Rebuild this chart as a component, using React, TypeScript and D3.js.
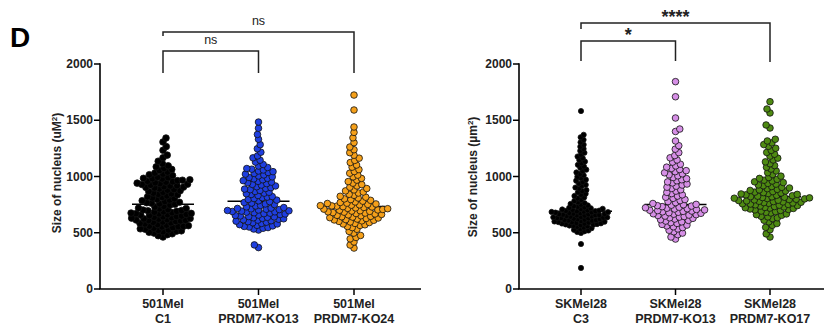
import React from "react";
import * as d3 from "d3";

// ---- data -------------------------------------------------------------
const leftCategories = [["501Mel", "C1"], ["501Mel", "PRDM7-KO13"], ["501Mel", "PRDM7-KO24"]];
const rightCategories = [["SKMel28", "C3"], ["SKMel28", "PRDM7-KO13"], ["SKMel28", "PRDM7-KO17"]];
const yTicks = [0, 500, 1000, 1500, 2000];

const mel501C1 = [
  462, 474, 483, 491, 497,
  504, 509, 514, 517, 522, 526, 531, 535, 541, 546, 552, 555, 557, 560, 563, 568, 573, 579, 584, 589, 593, 596,
  601, 606, 609, 611, 613, 617, 621, 623, 627, 630, 634, 638, 642, 645, 649, 653, 657, 661, 664, 668, 670,
  672, 675, 679, 683, 687, 691, 695, 698,
  702, 706, 713, 716, 719, 729, 735, 746,
  753, 758, 762, 767, 771, 778, 785, 791, 796, 803, 810, 815, 820, 828, 837, 842, 847, 853, 860, 867,
  874, 879, 884, 891, 898,
  903, 906, 910, 916, 919, 924, 929, 932, 937, 941, 945, 950, 954, 958, 963, 967, 971, 978, 981, 984, 990, 994,
  1009, 1016, 1022, 1031, 1040, 1053, 1063, 1072, 1086, 1095,
  1114, 1136, 1167, 1190, 1233, 1266, 1307, 1342,
];
const mel501KO13 = [
  368, 392,
  524, 533, 540, 546, 551, 556, 561, 566, 572, 578, 583, 589, 594, 598,
  603, 607, 612, 615, 620, 624, 628, 633, 637, 641, 644, 649, 654, 657, 662, 667, 670, 674, 678, 683,
  686, 689, 692, 695, 698, 702, 706, 709, 712, 716, 719,
  724, 730, 738, 743, 751, 756, 764, 769,
  777, 784, 790, 796, 804, 811, 817, 822, 831, 840, 847, 852, 860, 867, 876, 883, 888, 894,
  901, 909, 916, 924, 930, 937, 944, 950, 957, 963, 971, 979, 984, 991, 997,
  1005, 1014, 1021, 1027, 1036, 1043, 1049, 1058, 1065, 1071, 1080, 1093,
  1107, 1128, 1145, 1166, 1183, 1216, 1247, 1283, 1331, 1374, 1429, 1484,
];
const mel501KO24 = [
  364, 391, 418, 446, 458, 476, 497, 512, 531, 546,
  556, 565, 571, 578, 583, 591, 596, 601, 606, 611, 614, 617, 622, 627, 631, 634, 639,
  642, 646, 651, 655, 659, 663, 667, 671, 675, 679, 683, 686, 690, 693, 696, 700, 703, 707, 710, 714,
  717, 721, 725, 729, 732, 736, 739,
  741, 745, 748, 752, 756, 760, 763, 769, 774, 781, 788, 795, 801, 809, 816, 824, 833, 842,
  853, 862, 872, 881, 893, 905, 916, 928, 941,
  955, 968, 983, 997, 1012, 1029, 1044, 1061, 1083, 1102, 1124, 1143,
  1163, 1189, 1212, 1238,
  1262, 1301, 1344, 1392, 1440, 1591, 1724,
];
const sk28C3 = [
  187, 400,
  498, 507, 513, 520, 526, 532, 540, 547, 553, 558,
  562, 564, 568, 571, 574, 577, 581, 582, 584, 587, 591, 594, 595, 598, 600, 604,
  607, 609, 612, 613, 616, 621, 622, 625, 628, 629, 631, 634, 637, 638, 640, 643, 646, 649,
  652, 655, 656, 658, 661, 664, 665, 667, 670, 674, 676, 679, 682, 683, 685, 688, 691, 692, 694,
  697, 700, 704, 707, 711, 713, 718, 721, 726,
  731, 737, 743, 749, 756, 763,
  771, 783, 792, 806, 814, 827, 838, 846, 859, 871, 880, 893, 902, 917, 926, 938, 951, 963, 972, 986,
  998, 1011, 1023, 1036, 1049, 1061, 1077, 1090, 1104, 1118, 1133, 1147, 1163, 1178, 1194,
  1211, 1228, 1246, 1265, 1283, 1304, 1326, 1349, 1371, 1582,
];
const sk28KO13 = [
  444, 462,
  483, 497, 509, 522, 534, 546, 553, 561, 568, 574, 583, 590, 597,
  604, 610, 616, 622, 628, 633, 639, 644, 648, 653, 657, 661, 665, 669,
  673, 678, 682, 686, 690, 693, 697, 700, 703, 707, 711, 714, 718, 722, 727, 732, 737,
  741, 745, 749, 752,
  760, 768, 777, 786, 795, 806, 816, 826, 837, 848, 859, 870, 882, 894,
  905, 914, 924, 933, 943, 952, 962, 971, 981, 991,
  1006, 1015, 1024, 1033, 1043, 1052, 1062, 1072, 1083, 1094,
  1109, 1128, 1147, 1166, 1186, 1212, 1243, 1274,
  1316, 1400, 1422, 1520, 1709, 1843,
];
const sk28KO17 = [
  462, 490, 527, 548, 566, 582, 597, 611,
  626, 633, 641, 646, 655, 661, 667, 676, 682, 688, 693, 698, 703, 707, 711, 716, 719, 722,
  725, 729, 733, 737, 741, 745, 748, 752, 755, 758, 762, 765, 768, 771, 774, 777, 780, 783, 786, 789,
  792, 795, 798, 801, 804, 807, 810, 813, 816, 819,
  821, 825, 829, 833, 837, 841, 845, 849, 853, 857, 861, 866, 871, 876, 881, 886, 892, 898,
  904, 911, 918, 925, 932, 939, 946, 953, 960, 967, 975, 983, 991,
  1003, 1018, 1034, 1049, 1066, 1082, 1097, 1113, 1130, 1147, 1163, 1181, 1198, 1214, 1232,
  1251, 1268, 1284, 1299, 1316, 1331,
  1431, 1458, 1565, 1600, 1665,
];

type Group = { values: number[]; fill: string; r: number };

const leftGroups: Group[] = [
  { values: mel501C1, fill: "#000000", r: 3.3 },
  { values: mel501KO13, fill: "#1f3fe0", r: 3.3 },
  { values: mel501KO24, fill: "#f5a01a", r: 3.3 },
];
const rightGroups: Group[] = [
  { values: sk28C3, fill: "#000000", r: 2.6 },
  { values: sk28KO13, fill: "#d68fe6", r: 3.3 },
  { values: sk28KO17, fill: "#4e8a12", r: 3.3 },
];

const leftBrackets = [
  { from: 0, to: 1, label: "ns", top: 51, left: 73, right: 73, size: 12.5, bold: false },
  { from: 0, to: 2, label: "ns", top: 32, left: 36, right: 73, size: 12.5, bold: false },
];
const rightBrackets = [
  { from: 0, to: 1, label: "*", top: 41, left: 61, right: 61, size: 18, bold: true },
  { from: 0, to: 2, label: "****", top: 23, left: 29, right: 62, size: 18, bold: true },
];

const FONT = "'Liberation Sans', Arial, Helvetica, sans-serif";

// beeswarm: place points in ascending order, nudging sideways until free
function swarm(values: number[], y: (v: number) => number, sep: number) {
  const order = d3.range(values.length).sort((a, b) => values[a] - values[b]);
  const placed: { x: number; y: number }[] = [];
  order.forEach((idx, k) => {
    const yy = y(values[idx]);
    const cands = [0];
    for (const p of placed) {
      const dy = Math.abs(p.y - yy);
      if (dy < sep) {
        const dx = Math.sqrt(sep * sep - dy * dy);
        cands.push(p.x + dx, p.x - dx);
      }
    }
    const sign = k % 2 === 0 ? 1 : -1;
    cands.sort((a, b) => Math.abs(a) - Math.abs(b) || sign * (b - a));
    let chosen = 0;
    for (const c of cands) {
      let ok = true;
      for (const p of placed) {
        const dx = p.x - c, dy = p.y - yy;
        if (dx * dx + dy * dy < sep * sep - 1e-6) { ok = false; break; }
      }
      if (ok) { chosen = c; break; }
    }
    placed.push({ x: chosen, y: yy });
  });
  return placed;
}

type Bracket = { from: number; to: number; label: string; top: number; left: number; right: number; size: number; bold: boolean };

function Panel(props: {
  axisX: number; axisEnd: number; centers: [number, number]; categories: string[][];
  groups: Group[]; brackets: Bracket[]; labelX: number; labelY: number; unit: React.ReactNode;
}) {
  const { axisX, axisEnd, centers, categories, groups, brackets, labelX, labelY, unit } = props;
  const y = d3.scaleLinear().domain([0, 2000]).range([289, 64]);
  const x = d3.scalePoint<number>().domain(d3.range(categories.length)).range(centers);
  const bottom = y(0);
  return (
    <g>
      {/* medians behind the points */}
      {groups.map((g, i) => {
        const m = d3.median(g.values) as number;
        return <line key={"m" + i} x1={x(i)! - 31} x2={x(i)! + 31} y1={y(m)} y2={y(m)} stroke="#000" strokeWidth={1.5} />;
      })}
      {groups.map((g, i) => {
        const pts = swarm(g.values, y, g.r * 2 * 0.75);
        return (
          <g key={"g" + i}>
            {pts.map((p, j) => (
              <circle key={j} cx={x(i)! + p.x} cy={p.y} r={g.r} fill={g.fill}
                stroke="#111" strokeWidth={0.8} />
            ))}
          </g>
        );
      })}
      {/* axes */}
      <line x1={axisX} x2={axisX} y1={y(2000) - 0.75} y2={bottom} stroke="#000" strokeWidth={1.6} />
      <line x1={axisX - 0.8} x2={axisEnd} y1={bottom} y2={bottom} stroke="#000" strokeWidth={1.6} />
      {yTicks.map((t) => (
        <g key={t}>
          <line x1={axisX - 6} x2={axisX} y1={y(t)} y2={y(t)} stroke="#000" strokeWidth={1.5} />
          <text x={axisX - 7} y={y(t) + 4} textAnchor="end" fontSize={12} fontWeight="bold" fontFamily={FONT} fill="#222">{t}</text>
        </g>
      ))}
      {categories.map((c, i) => (
        <g key={i}>
          <line x1={x(i)} x2={x(i)} y1={bottom} y2={bottom + 6} stroke="#000" strokeWidth={1.5} />
          {c.map((s, k) => (
            <text key={k} x={x(i)} y={308 + k * 15} textAnchor="middle" fontSize={12.5} fontWeight="bold" fontFamily={FONT} fill="#222">{s}</text>
          ))}
        </g>
      ))}
      <text transform={`translate(${labelX},${labelY}) rotate(-90)`} textAnchor="middle" fontSize={12} fontWeight="bold" fontFamily={FONT} fill="#222">
        {unit}
      </text>
      {brackets.map((b, i) => {
        const x1 = x(b.from)!, x2 = x(b.to)!;
        return (
          <g key={"b" + i}>
            <path d={`M${x1},${b.left}V${b.top}H${x2}V${b.right}`} fill="none" stroke="#222" strokeWidth={1.5} />
            <text x={(x1 + x2) / 2} y={b.bold ? b.top : b.top - 7} textAnchor="middle" fontSize={b.size}
              fontWeight={b.bold ? "bold" : "normal"} fontFamily={FONT} fill="#222">{b.label}</text>
          </g>
        );
      })}
    </g>
  );
}

export default function App() {
  return (
    <svg width={824} height={327} viewBox="0 0 824 327" style={{ position: "absolute", left: 0, top: 0, background: "#fff" }}>
      <rect width={824} height={327} fill="#fff" />
      <text x={10} y={47} fontSize={28} fontWeight="bold" fontFamily={FONT} fill="#000">D</text>
      <Panel axisX={100} axisEnd={421} centers={[163, 354]} categories={leftCategories} groups={leftGroups}
        brackets={leftBrackets} labelX={61} labelY={173}
        unit={<>Size of nucleus (uM<tspan dy={-4} fontSize={8}>2</tspan><tspan dy={4}>)</tspan></>} />
      <Panel axisX={519} axisEnd={824} centers={[581, 770]} categories={rightCategories} groups={rightGroups}
        brackets={rightBrackets} labelX={477} labelY={177}
        unit={<>Size of nucleus (µm<tspan dy={-4} fontSize={8}>2</tspan><tspan dy={4}>)</tspan></>} />
    </svg>
  );
}
